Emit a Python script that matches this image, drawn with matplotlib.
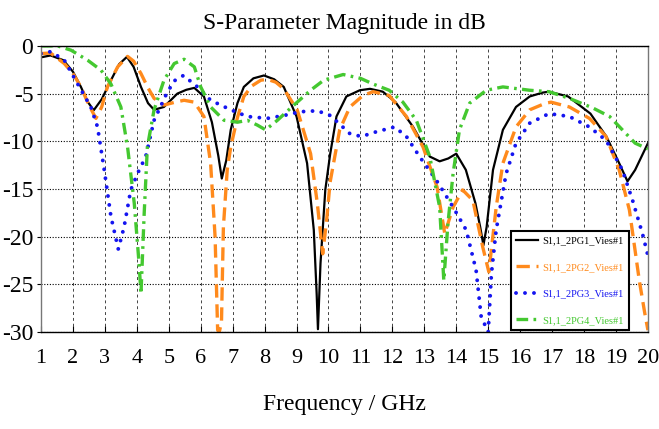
import matplotlib
matplotlib.use("Agg")
import matplotlib.pyplot as plt

plt.rcParams['font.family'] = ['Liberation Serif', 'DejaVu Serif']
plt.rcParams['axes.unicode_minus'] = False

# values (frequency in GHz, magnitude in dB)
freq_pg1 = [1.0, 1.3, 1.7, 2.0, 2.25, 2.45, 2.65, 2.9, 3.19, 3.45, 3.69, 3.9, 4.13, 4.35,
            4.54, 4.85, 5.27, 5.55, 5.8, 6.1, 6.35, 6.55, 6.66, 6.8, 6.94, 7.15, 7.35, 7.65,
            7.98, 8.3, 8.6, 9.0, 9.33, 9.54, 9.63, 9.67, 9.75, 9.9, 10.05, 10.25, 10.56,
            10.98, 11.3, 11.7, 12.1, 12.65, 13.17, 13.48, 13.75, 14.0, 14.3, 14.6, 14.75,
            14.85, 14.95, 15.15, 15.46, 15.87, 16.3, 16.7, 16.9, 17.5, 18.2, 18.7, 19.1,
            19.36, 19.6, 20.0]
s11_pg1 = [-1.2, -1.0, -1.5, -2.7, -4.3, -5.8, -6.75, -5.6, -3.6, -1.9, -1.15, -2.2, -4.3, -6.0,
           -6.7, -6.4, -5.0, -4.6, -4.4, -5.3, -8.0, -11.5, -13.9, -12.0, -8.8, -6.0, -4.3, -3.4,
           -3.1, -3.5, -4.3, -7.4, -12.3, -19.3, -26.0, -29.7, -22.8, -15.1, -11.4, -7.4, -5.3,
           -4.65, -4.5, -4.8, -5.9, -8.5, -11.6, -12.1, -11.8, -11.3, -13.0, -16.5, -19.0,
           -20.9, -19.0, -13.0, -8.8, -6.4, -5.3, -4.9, -4.8, -5.3, -7.1, -9.5, -12.3,
           -14.2, -13.0, -10.2]

freq_pg2 = [1.0, 1.3, 1.73, 2.0, 2.25, 2.5, 2.72, 2.9, 3.08, 3.4, 3.71, 3.9, 4.13, 4.35,
            4.54, 4.85, 5.2, 5.48, 5.8, 6.1, 6.31, 6.45, 6.53, 6.58, 6.65, 6.71, 6.83, 6.94,
            7.15, 7.35, 7.6, 7.88, 8.08, 8.35, 8.6, 9.02, 9.44, 9.65, 9.82, 9.95, 10.05, 10.35,
            10.67, 11.08, 11.4, 11.9, 12.44, 12.96, 13.4, 13.64, 13.9, 14.2, 14.52, 14.83,
            15.02, 15.25, 15.46, 15.87, 16.3, 16.8, 16.97, 17.54, 18.17, 18.69, 19.1, 19.42,
            19.73, 19.9, 20.0]
s11_pg2 = [-0.8, -0.75, -1.85, -2.9, -4.3, -6.2, -7.6, -6.4, -4.3, -2.2, -1.1, -1.6, -2.9, -4.4,
           -5.5, -6.2, -5.9, -5.7, -5.9, -7.4, -12.3, -20.0, -29.8, -30.0, -29.0, -19.0, -13.0,
           -10.6, -7.5, -5.3, -4.2, -3.6, -3.5, -3.8, -4.5, -6.7, -11.3, -16.5, -21.8, -18.0,
           -14.3, -8.8, -6.4, -5.2, -4.8, -5.2, -7.4, -10.6, -14.8, -19.7, -16.9, -15.1, -16.2,
           -21.1, -23.7, -16.9, -12.3, -8.5, -6.7, -6.0, -5.9, -6.4, -7.6, -9.5, -13.0, -17.2,
           -24.6, -28.0, -29.8]

freq_pg3 = [1.0, 1.31, 1.73, 2.15, 2.56, 2.77, 2.98, 3.19, 3.42, 3.6, 3.81, 4.02, 4.28, 4.54,
            4.96, 5.2, 5.46, 5.9, 6.31, 6.94, 7.46, 8.08, 8.6, 9.13, 9.65, 10.06, 10.35, 10.67,
            11.03, 11.5, 12.07, 12.44, 12.85, 13.38, 13.9, 14.31, 14.62, 14.78, 15.0, 15.1,
            15.25, 15.56, 15.87, 16.3, 16.9, 17.54, 18.17, 18.69, 19.2, 19.52, 19.83, 20.0]
s11_pg3 = [-0.8, -0.6, -1.5, -4.0, -6.4, -8.5, -13.0, -17.9, -21.3, -19.0, -15.1, -13.4, -11.6,
           -7.8, -4.8, -3.6, -3.1, -4.3, -5.7, -6.7, -7.4, -7.6, -7.3, -6.9, -6.8, -7.3, -8.2,
           -9.2, -9.5, -9.0, -8.5, -9.5, -11.6, -14.1, -16.9, -19.3, -23.5, -28.4, -30.0, -23.9,
           -19.3, -13.4, -10.2, -8.1, -7.1, -7.4, -8.5, -9.9, -13.0, -16.2, -19.7, -22.0]

freq_pg4 = [1.0, 1.52, 1.94, 2.46, 2.88, 3.19, 3.5, 3.71, 3.92, 4.07, 4.13, 4.23, 4.33, 4.54,
            4.85, 5.17, 5.48, 5.8, 6.0, 6.31, 6.73, 7.15, 7.46, 7.77, 8.03, 8.4, 8.92, 9.44,
            9.85, 10.46, 11.0, 11.4, 11.9, 12.33, 12.75, 13.17, 13.48, 13.61, 13.74, 13.9,
            14.1, 14.42, 14.94, 15.46, 16.3, 16.9, 17.54, 18.27, 18.8, 19.2, 19.6, 20.0]
s11_pg4 = [0.0, 0.0, -0.45, -1.5, -2.55, -4.0, -6.4, -10.6, -16.5, -22.8, -26.0, -17.6, -10.6,
           -6.7, -3.6, -1.85, -1.4, -2.2, -4.3, -6.4, -7.8, -8.0, -7.8, -8.3, -8.8, -7.8, -6.2,
           -4.65, -3.6, -3.0, -3.4, -4.0, -4.65, -5.9, -7.8, -11.6, -16.9, -24.6, -18.6, -13.4,
           -8.8, -6.0, -4.65, -4.3, -4.65, -4.8, -5.5, -6.5, -7.4, -8.8, -10.2, -10.8]

labels = ["S1,1_2PG1_Vies#1", "S1,1_2PG2_Vies#1", "S1,1_2PG3_Vies#1", "S1,1_2PG4_Vies#1"]
colors = ["black", "#ff8a1c", "#1414f0", "#44c830"]

fig = plt.figure(figsize=(6.59, 4.29), dpi=100)
ax = fig.add_axes([0.0622, 0.226, 0.921, 0.667])

ax.plot(freq_pg1, s11_pg1, color=colors[0], lw=1.6, label=labels[0])
ax.plot(freq_pg2, s11_pg2, color=colors[1], lw=2.4, dashes=(4, 2), label=labels[1])
ax.plot(freq_pg3, s11_pg3, color=colors[2], lw=2.8, dashes=(0.01, 2.3),
        dash_capstyle='round', label=labels[2])
ax.plot(freq_pg4, s11_pg4, color=colors[3], lw=2.4, dashes=(3.5, 1.6, 0.8, 1.6),
        label=labels[3])

ax.set_xlim(1, 20)
ax.set_ylim(-30, 0)
ax.set_xticks(range(1, 21))
ax.set_yticks(range(-30, 1, 5))

ax.grid(axis='x', linestyle=(0, (3, 3)), color='#444444', lw=0.7)
ax.grid(axis='y', linestyle=(0, (1, 1.5)), color='black', lw=0.8)

ax.tick_params(axis='x', direction='in', length=4, pad=12, labelsize=16)
ax.tick_params(axis='y', direction='out', length=3, pad=2.5, labelsize=17)
for sp in ['left', 'right']:
    ax.spines[sp].set_color('#777777')
for sp in ax.spines.values():
    sp.set_linewidth(1.0)

ax.set_title("S-Parameter Magnitude in dB", fontsize=17, pad=12)
ax.set_xlabel("Frequency / GHz", fontsize=17, labelpad=19)

leg = ax.legend(loc='lower left', bbox_to_anchor=(0.774, 0.007), fontsize=7.5,
                handlelength=2.1, handletextpad=0.45, labelspacing=1.65, borderpad=0.5,
                fancybox=False, framealpha=1, edgecolor='black', borderaxespad=0)
leg.get_frame().set_linewidth(1.5)
for txt, c in zip(leg.get_texts(), colors):
    txt.set_color(c)

fig.savefig("out.png", dpi=100)
